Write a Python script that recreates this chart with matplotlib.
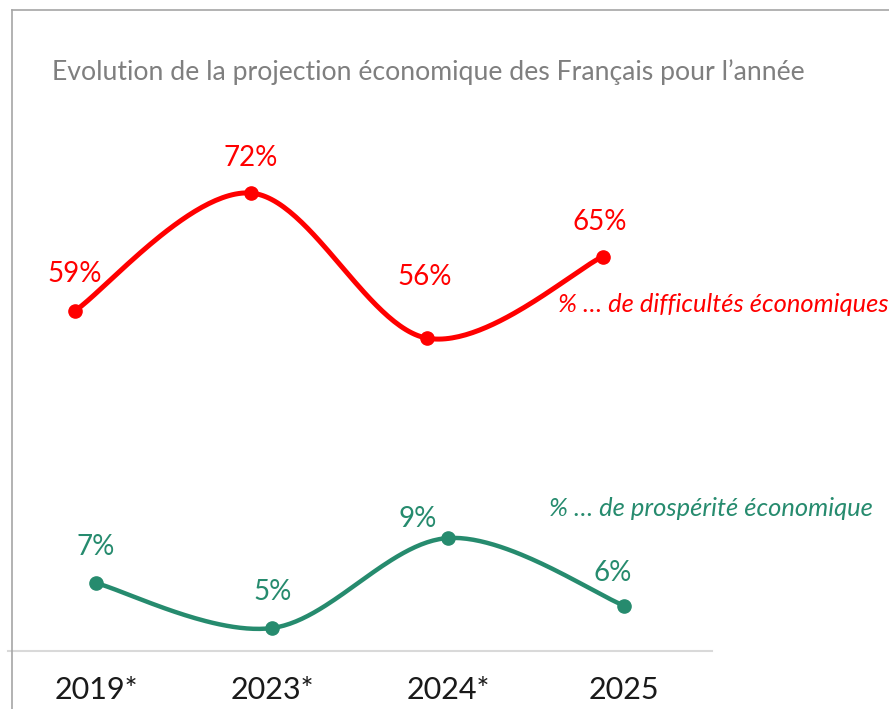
# -*- coding: utf-8 -*-
"""
Evolution de la projection économique des Français pour l'année
(courbes lissées, deux échelles)
"""
import numpy as np
import matplotlib.pyplot as plt
from matplotlib.lines import Line2D

plt.rcParams['font.family'] = ['Lato', 'DejaVu Sans']

# Données
annees = ['2019*', '2023*', '2024*', '2025']
difficultes = [59, 72, 56, 65]
prosperite = [7, 5, 9, 6]

ROUGE = '#FF0000'
VERT = '#268B6E'
GRIS = '#7F7F7F'

W, H = 889, 709


def courbe_lisse(x, y, n=60):
    """Lissage façon Excel (Bézier cubique, Catmull-Rom)"""
    x = np.asarray(x, float)
    y = np.asarray(y, float)
    px = np.concatenate([[x[0]], x, [x[-1]]])
    py = np.concatenate([[y[0]], y, [y[-1]]])
    t = np.linspace(0, 1, n)[:, None]
    segs = []
    for i in range(1, len(px) - 2):
        p0 = np.array([px[i - 1], py[i - 1]])
        p1 = np.array([px[i], py[i]])
        p2 = np.array([px[i + 1], py[i + 1]])
        p3 = np.array([px[i + 2], py[i + 2]])
        c1 = p1 + (p2 - p0) / 6
        c2 = p2 - (p3 - p1) / 6
        b = ((1 - t) ** 3) * p1 + 3 * ((1 - t) ** 2) * t * c1 \
            + 3 * (1 - t) * t ** 2 * c2 + t ** 3 * p2
        segs.append(b)
    pts = np.vstack(segs)
    return pts[:, 0], pts[:, 1]


fig = plt.figure(figsize=(W / 100, H / 100), dpi=100)

# zone de tracé : de x=8 à x=712 px, de y=100 à y=651 px
ax = fig.add_axes([8 / W, 1 - 651 / H, 704 / W, 551 / H])
ax2 = ax.twinx()

x = np.arange(len(annees))
x_rouge = x - 0.12  # la série rouge est décalée vers la gauche

# 1. Difficultés économiques (échelle de gauche)
xs, ys = courbe_lisse(x_rouge, difficultes)
ax.plot(xs, ys, color=ROUGE, linewidth=3.6, solid_capstyle='round')
ax.plot(x_rouge, difficultes, 'o', color=ROUGE, markersize=9.5)
decal_rouge = [(0, 37), (0, 35), (-2, 61), (-3, 35)]
for xi, v, d in zip(x_rouge, difficultes, decal_rouge):
    ax.annotate(f'{v}%', (xi, v), xytext=d, textcoords='offset pixels',
                ha='center', va='center', color=ROUGE, fontsize=20)

# 2. Prospérité économique (échelle de droite)
xs, ys = courbe_lisse(x, prosperite)
ax2.plot(xs, ys, color=VERT, linewidth=3.2, solid_capstyle='round')
ax2.plot(x, prosperite, 'o', color=VERT, markersize=9.5)
decal_vert = [(0, 36), (1, 36), (-30, 19), (-11, 33)]
for xi, v, d in zip(x, prosperite, decal_vert):
    ax2.annotate(f'{v}%', (xi, v), xytext=d, textcoords='offset pixels',
                 ha='center', va='center', color=VERT, fontsize=20)

ax.set_xlim(-0.5, 3.5)
ax.set_ylim(21.5, 82.26)
ax2.set_ylim(3.98, 28.47)

for a in (ax, ax2):
    for s in ('top', 'left', 'right'):
        a.spines[s].set_visible(False)
    a.set_yticks([])
    a.patch.set_visible(False)
ax2.spines['bottom'].set_visible(False)
ax.spines['bottom'].set_color('#D9D9D9')
ax.spines['bottom'].set_linewidth(1.5)

ax.set_xticks(x)
ax.set_xticklabels(annees, fontsize=22, color='#1A1A1A')
ax.tick_params(axis='x', length=0, pad=18)

# Titre et libellés des séries
fig.text(52 / W, 1 - 72 / H,
         'Evolution de la projection économique des Français pour l’année',
         ha='left', va='center', color=GRIS, fontsize=19.2)
fig.text(558 / W, 1 - 305 / H, '% … de difficultés économiques',
         ha='left', va='center', color=ROUGE, fontsize=18.4, style='italic')
fig.text(549 / W, 1 - 508 / H, '% … de prospérité économique',
         ha='left', va='center', color=VERT, fontsize=18.4, style='italic')

# Bordure du graphique
fig.add_artist(Line2D([12 / W, 12 / W], [0, 1 - 10 / H],
                      transform=fig.transFigure, color='#A6A6A6', linewidth=1.2))
fig.add_artist(Line2D([12 / W, 1], [1 - 10 / H, 1 - 10 / H],
                      transform=fig.transFigure, color='#A6A6A6', linewidth=1.2))

plt.savefig('out.png', dpi=100)
plt.close()
